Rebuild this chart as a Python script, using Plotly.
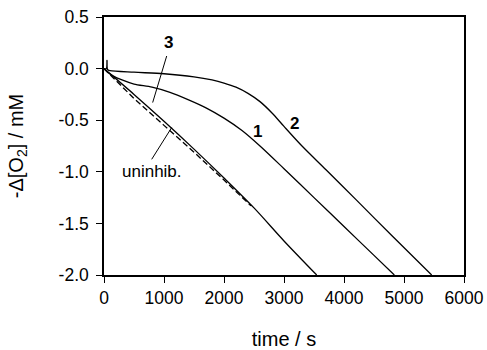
import plotly.graph_objects as go

# Curve 1
t1 = [0, 50, 150, 300, 500, 800, 1100, 1400, 1700, 2000, 2300, 2600, 3000, 3500, 4000, 4500, 4839]
y1 = [0, -0.03, -0.07, -0.11, -0.15, -0.18, -0.23, -0.30, -0.38, -0.48, -0.60, -0.75, -0.97, -1.25, -1.53, -1.81, -2.0]
# Curve 2
t2 = [0, 40, 50, 60, 100, 500, 1000, 1500, 1800, 2000, 2200, 2400, 2600, 2800, 3000, 3300, 3700, 4200, 4800, 5461]
y2 = [0, 0.0, 0.08, -0.01, -0.02, -0.035, -0.05, -0.08, -0.11, -0.14, -0.18, -0.24, -0.32, -0.43, -0.56, -0.75, -0.98, -1.27, -1.62, -2.0]
# Curve 3
t3 = [0, 500, 1000, 1500, 2000, 2500, 3000, 3545]
y3 = [0, -0.25, -0.51, -0.78, -1.06, -1.35, -1.67, -2.0]
# Uninhibited (dashed)
tu = [0, 200, 500, 1000, 1500, 2000, 2450]
yu = [0, -0.12, -0.29, -0.55, -0.81, -1.08, -1.33]

x_ticks = [0, 1000, 2000, 3000, 4000, 5000, 6000]
y_ticks = [0.5, 0.0, -0.5, -1.0, -1.5, -2.0]
y_tick_text = ["0.5", "0.0", "-0.5", "-1.0", "-1.5", "-2.0"]

FONT = "Liberation Sans, Arial, sans-serif"

fig = go.Figure()
line = dict(color="black", width=1.3, shape="spline", smoothing=0.8)
fig.add_trace(go.Scatter(x=t1, y=y1, mode="lines", line=line, showlegend=False))
fig.add_trace(go.Scatter(x=t2, y=y2, mode="lines", line=line, showlegend=False))
fig.add_trace(go.Scatter(x=t3, y=y3, mode="lines", line=line, showlegend=False))
fig.add_trace(go.Scatter(x=tu, y=yu, mode="lines",
                         line=dict(color="black", width=1.3, dash="6px,3px"), showlegend=False))

# leader lines
fig.add_trace(go.Scatter(x=[1045, 811], y=[0.122, -0.329], mode="lines",
                         line=dict(color="black", width=1), showlegend=False))
fig.add_trace(go.Scatter(x=[795, 1128], y=[-0.879, -0.571], mode="lines",
                         line=dict(color="black", width=1), showlegend=False))

labels = [
    (1072, 0.252, "<b>3</b>", 17),
    (2560, -0.61, "<b>1</b>", 17),
    (3167, -0.53, "<b>2</b>", 17),
    (795, -1.0, "uninhib.", 17),
]
for x, y, txt, sz in labels:
    fig.add_annotation(x=x, y=y, text=txt, showarrow=False,
                       font=dict(family=FONT, size=sz, color="black"))

fig.update_layout(
    width=487, height=350,
    margin=dict(l=104, r=23, t=17, b=75, autoexpand=False),
    paper_bgcolor="white", plot_bgcolor="white",
    font=dict(family=FONT, size=17, color="black"),
    showlegend=False,
)
fig.update_xaxes(
    range=[0, 6000], tickvals=x_ticks, ticktext=[str(v) for v in x_ticks],
    ticks="outside", ticklen=6, tickwidth=1.3, tickcolor="black",
    showline=True, linecolor="black", linewidth=1.5, mirror=True,
    showgrid=False, zeroline=False, automargin=False,
    title=dict(text="time / s", font=dict(size=20), standoff=25),
    tickfont=dict(size=17.5),
)
fig.update_yaxes(
    range=[-2.0, 0.5], tickvals=y_ticks, ticktext=y_tick_text,
    ticks="outside", ticklen=6, tickwidth=1.3, tickcolor="black",
    showline=True, linecolor="black", linewidth=1.5, mirror=True,
    showgrid=False, zeroline=False, automargin=False,
    ticklabelstandoff=4,
    title=dict(text="-Δ[O<sub>2</sub>] / mM", font=dict(size=20), standoff=30),
    tickfont=dict(size=17.5),
)

fig.write_html("out.html", config={"displayModeBar": False},
               post_script="document.body.style.margin='0px';")
